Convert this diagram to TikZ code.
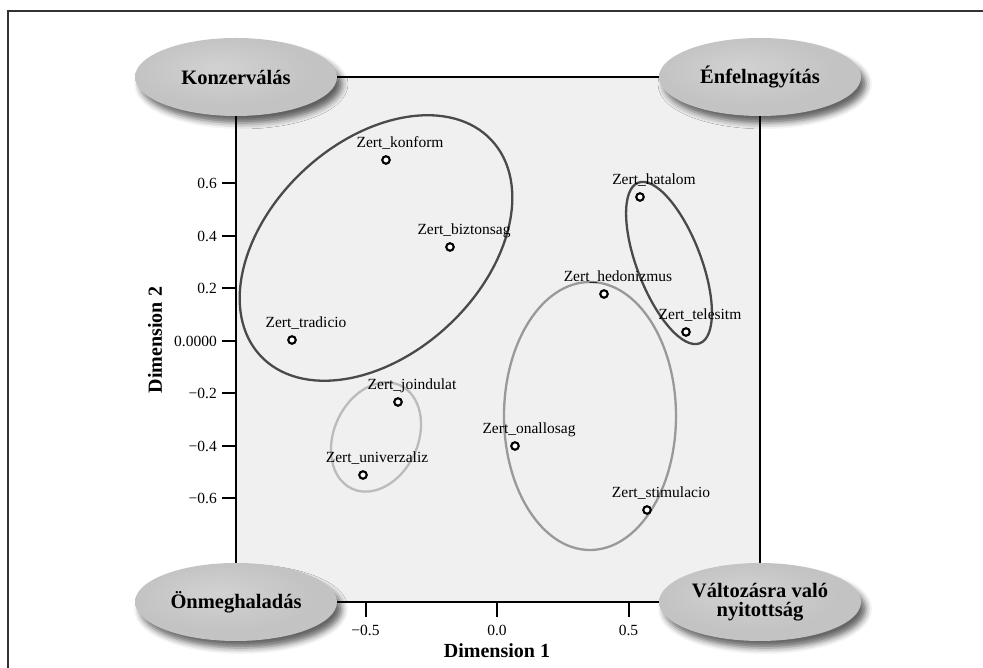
\documentclass[tikz,border=0pt]{standalone}
\usepackage{fontspec}
\setmainfont{Liberation Serif}
\usetikzlibrary{shapes.geometric,shadows.blur,backgrounds}
\definecolor{plotbg}{HTML}{F0F0F0}
\definecolor{darkell}{HTML}{4A4A4A}
\definecolor{lightell}{HTML}{BBBBBB}
\definecolor{midell}{HTML}{999999}
\definecolor{framecol}{HTML}{333333}
\definecolor{capA}{HTML}{D2D2D2}
\definecolor{capB}{HTML}{C3C3C3}
\definecolor{capC}{HTML}{7E7E7E}
\pgfdeclareradialshading{capshade}{\pgfpoint{-5bp}{6bp}}{color(0bp)=(capA); color(22bp)=(capB); color(40bp)=(capB); color(48bp)=(capC); color(50bp)=(capC)}
\begin{document}
\begin{tikzpicture}[x=1pt,y=1pt,
  capnode/.style={ellipse, minimum width=202pt, minimum height=78pt, inner sep=0pt,
    shading=capshade, align=center,
    font=\fontsize{20.5}{22}\selectfont\bfseries,
    blur shadow={shadow xshift=5pt, shadow yshift=-7pt, shadow blur radius=6pt, shadow opacity=60}},
  axisline/.style={black, line width=2.2pt},
  tickline/.style={black, line width=2pt},
  ticklab/.style={font=\fontsize{15.5}{17}\selectfont, inner sep=0pt},
  datapt/.style={circle, draw=black, line width=2.1pt, fill=white, inner sep=0pt, minimum size=7.5pt},
  lab/.style={font=\fontsize{15.5}{17}\selectfont, inner sep=0pt, anchor=base},
  cluster/.style={line width=2.3pt},
  axtitle/.style={font=\fontsize{20}{22}\selectfont\bfseries, inner sep=0pt}
]
\useasboundingbox (0,0) rectangle (983,668);
% outer frame
\draw[framecol, line width=2pt] (8,0) -- (8,657) -- (983,657);

% corner nodes
\node[capnode] (kon) at (236,591) {Konzerválás};
\node[capnode] (enf) at (760,591) {Énfelnagyítás};
\node[capnode] (onm) at (236,66) {Önmeghaladás};
\node[capnode] (val) at (760,66) {Változásra való\\[-3pt]nyitottság};

\begin{scope}[on background layer]
  \fill[plotbg] (kon.center) rectangle (val.center);
  \draw[axisline] (kon.center) -- (enf.center);
  \draw[axisline] (kon.center) -- (onm.center);
  \draw[axisline] (enf.center) -- (val.center);
  \draw[axisline] (onm.center) -- (val.center);
\end{scope}

% y ticks
\foreach \v/\t in {484.5/0.6, 432/0.4, 379.5/0.2, 327/0.0000, 274.5/−0.2, 222/−0.4, 169.5/−0.6}{
  \draw[tickline] (222,\v) -- (236,\v);
  \node[ticklab, anchor=east] at (217,\v) {\t};
}
% x ticks
\foreach \u/\t in {365.5/−0.5, 497/0.0, 628.5/0.5}{
  \draw[tickline] (\u,66) -- (\u,51);
  \node[ticklab] at (\u,38) {\t};
}

\node[axtitle] (d1) at (497,17) {Dimension 1};
\node[axtitle, rotate=90] (d2) at (155,328) {Dimension 2};

% cluster ellipses
\draw[cluster, darkell] (376,420) ellipse [x radius=158pt, y radius=106pt, rotate=43];
\draw[cluster, darkell] (669,405) ellipse [x radius=86pt, y radius=32pt, rotate=111];
\draw[cluster, lightell] (376,231) ellipse [x radius=57pt, y radius=42pt, rotate=65];
\draw[cluster, midell] (590,252) ellipse [x radius=86pt, y radius=134pt];

% points
\node[datapt] (konform) at (386,508) {};
\node[datapt] (biztonsag) at (450,421) {};
\node[datapt] (tradicio) at (292,328) {};
\node[datapt] (hatalom) at (640,471) {};
\node[datapt] (hedonizmus) at (604,374) {};
\node[datapt] (telesitm) at (686,336) {};
\node[datapt] (joindulat) at (398,266) {};
\node[datapt] (univerzaliz) at (363,193) {};
\node[datapt] (onallosag) at (515,222) {};
\node[datapt] (stimulacio) at (647,158) {};

% labels
\node[lab] (konform-l) at (400,520) {Zert\_konform};
\node[lab] (biztonsag-l) at (464,433) {Zert\_biztonsag};
\node[lab] (tradicio-l) at (306,340) {Zert\_tradicio};
\node[lab] (hatalom-l) at (654,483) {Zert\_hatalom};
\node[lab] (hedonizmus-l) at (618,386) {Zert\_hedonizmus};
\node[lab] (telesitm-l) at (700,348) {Zert\_telesitm};
\node[lab] (joindulat-l) at (412,278) {Zert\_joindulat};
\node[lab] (univerzaliz-l) at (377,205) {Zert\_univerzaliz};
\node[lab] (onallosag-l) at (529,234) {Zert\_onallosag};
\node[lab] (stimulacio-l) at (661,170) {Zert\_stimulacio};
\end{tikzpicture}
\end{document}
